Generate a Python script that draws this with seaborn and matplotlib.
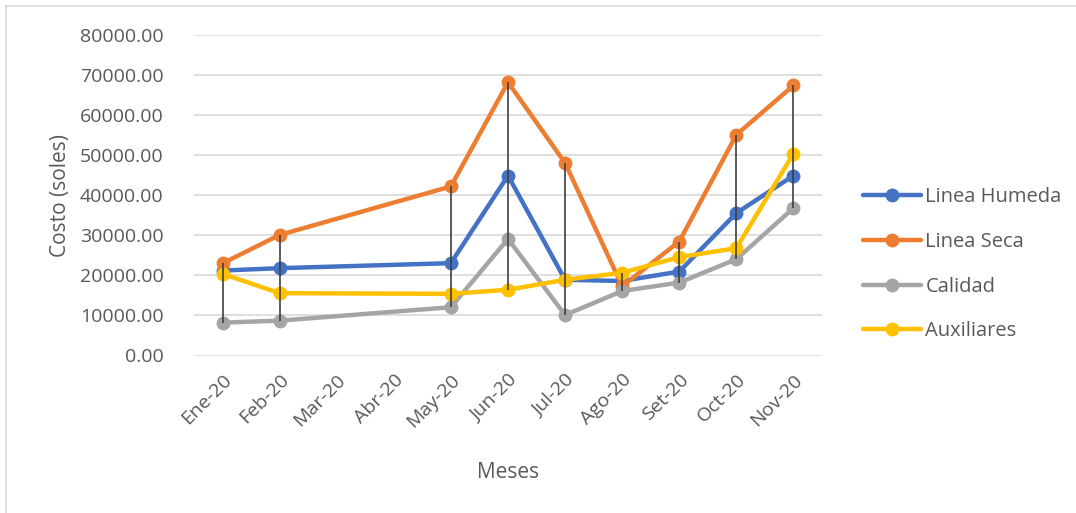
import numpy as np
import pandas as pd
import matplotlib
matplotlib.use("Agg")
import matplotlib.pyplot as plt
from matplotlib.lines import Line2D
import seaborn as sns

# Monthly costs (soles); Mar-20 and Abr-20 have no records
meses = ["Ene-20", "Feb-20", "Mar-20", "Abr-20", "May-20", "Jun-20",
         "Jul-20", "Ago-20", "Set-20", "Oct-20", "Nov-20"]
linea_humeda = [21200, 21800, np.nan, np.nan, 23050, 44900, 18900, 18600, 20950, 35550, 44900]
linea_seca = [23000, 30100, np.nan, np.nan, 42200, 68200, 48050, 17300, 28450, 55100, 67400]
calidad = [8200, 8700, np.nan, np.nan, 12050, 29100, 10100, 16100, 18200, 24050, 36800]
auxiliares = [20400, 15550, np.nan, np.nan, 15400, 16400, 18900, 20650, 24550, 26800, 50400]

series_names = ["Linea Humeda", "Linea Seca", "Calidad", "Auxiliares"]
series_values = [linea_humeda, linea_seca, calidad, auxiliares]
colors = ["#4472C4", "#ED7D31", "#A5A5A5", "#FFC000"]

rows = []
for name, vals in zip(series_names, series_values):
    for i, (m, v) in enumerate(zip(meses, vals)):
        rows.append({"pos": i, "mes": m, "serie": name, "costo": v})
df = pd.DataFrame(rows).dropna()

sns.set_theme(style="white")
plt.rcParams["font.family"] = ["Open Sans", "DejaVu Sans"]
text_color = "#595959"

fig = plt.figure(figsize=(10.76, 5.13), dpi=100)
ax = fig.add_axes([194 / 1076, 1 - 355.5 / 513, 628 / 1076, 320.5 / 513])

sns.lineplot(data=df, x="pos", y="costo", hue="serie", hue_order=series_names,
             palette=colors, linewidth=3.2, marker="o", markersize=10,
             markeredgewidth=0, sort=True, legend=False, ax=ax, zorder=3)

# High-low lines joining the lowest and highest value of each month
wide = df.pivot(index="pos", columns="serie", values="costo")
ax.vlines(wide.index, wide.min(axis=1), wide.max(axis=1),
          color="#404040", linewidth=1.2, zorder=5)

ax.set_xlim(-0.5, len(meses) - 0.5)
ax.set_ylim(0, 80000)
ax.set_yticks(np.arange(0, 80001, 10000))
ax.set_yticklabels([f"{v:.2f}" for v in np.arange(0, 80001, 10000)])
ax.set_xticks(range(len(meses)))
ax.set_xticklabels(meses, rotation=45, ha="right", rotation_mode="anchor")
ax.tick_params(axis="y", length=0, pad=22, labelsize=14, labelcolor=text_color)
ax.tick_params(axis="x", length=0, pad=11, labelsize=14, labelcolor=text_color)
ax.grid(axis="y", color="#D9D9D9", linewidth=1.2)
ax.set_axisbelow(True)
for s in ax.spines.values():
    s.set_visible(False)

ax.set_xlabel("Meses", fontsize=15, color=text_color)
ax.set_ylabel("Costo (soles)", fontsize=15, color=text_color)
ax.xaxis.set_label_coords(0.5, -0.333)
ax.yaxis.set_label_coords(-0.196, 0.5)

handles = [Line2D([0], [0], color=c, linewidth=3.2, marker="o", markersize=10,
                  markeredgewidth=0) for c in colors]
leg = fig.legend(handles, series_names, loc="upper left",
                 bbox_to_anchor=(855 / 1076, 1 - 179 / 513), frameon=False,
                 fontsize=14.5, handlelength=2.9, handletextpad=0.2,
                 labelspacing=1.23, borderaxespad=0)
for t in leg.get_texts():
    t.set_color(text_color)

# Chart border (left and top edges)
fig.add_artist(Line2D([6 / 1076, 6 / 1076], [0, 1 - 6 / 513],
                      transform=fig.transFigure, color="#D9D9D9", linewidth=1.2))
fig.add_artist(Line2D([6 / 1076, 1], [1 - 6 / 513, 1 - 6 / 513],
                      transform=fig.transFigure, color="#D9D9D9", linewidth=1.2))

fig.savefig("out.png", dpi=100, facecolor="white")
